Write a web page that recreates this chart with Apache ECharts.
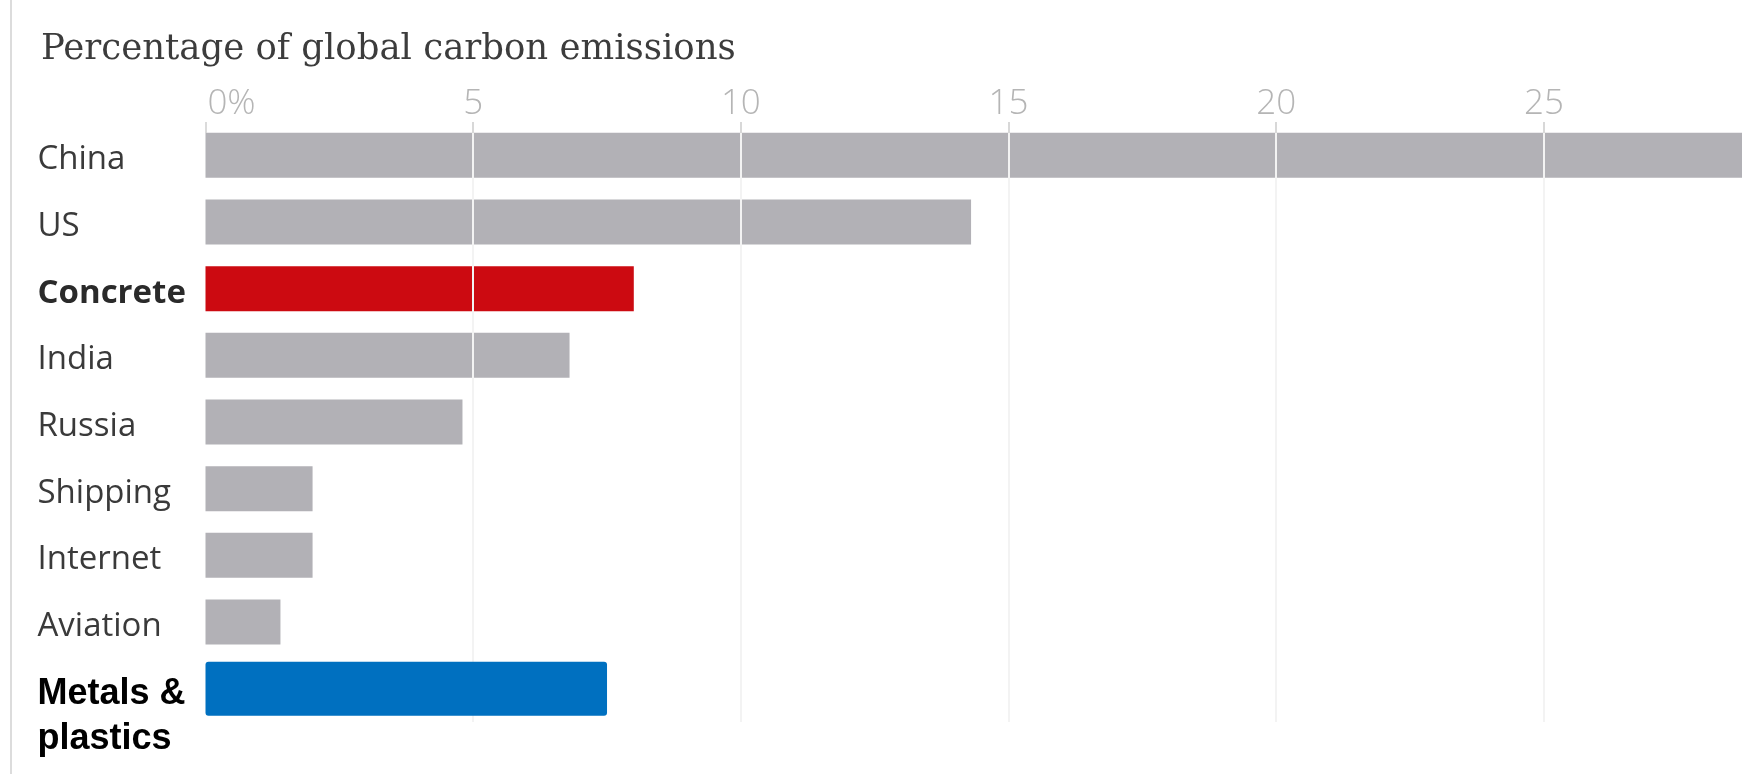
<!DOCTYPE html>
<html>
<head>
<meta charset="utf-8">
<script src="https://cdn.jsdelivr.net/npm/echarts@6/dist/echarts.min.js"></script>
<style>
html,body{margin:0;padding:0;background:#fff;}
#chart{width:1742px;height:774px;}
</style>
</head>
<body>
<div id="chart"></div>
<script>
const title = 'Percentage of global carbon emissions';
const categories = ['China', 'US', 'Concrete', 'India', 'Russia', 'Shipping', 'Internet', 'Aviation', 'Metals & plastics'];
const values = [29, 14.3, 8.0, 6.8, 4.8, 2.0, 2.0, 1.4, null];
const highlightValues = [null, null, null, null, null, null, null, null, 7.5];
const tickValues = [0, 5, 10, 15, 20, 25];
const axisMax = 28.7;

const GRAY = '#b2b1b6', RED = '#cc0a11', BLUE = '#0070c0';

const chart = echarts.init(document.getElementById('chart'), null, {renderer: 'canvas'});

const barData = values.map((v, i) => ({
  value: v,
  itemStyle: {color: categories[i] === 'Concrete' ? RED : GRAY}
}));

const yLabel = {
  show: true,
  align: 'left',
  margin: 168,
  padding: [9, 0, 0, 0],
  fontFamily: 'Open Sans',
  fontSize: 33,
  color: '#3a3a3a',
  formatter: function (v) {
    if (v === 'Concrete') return '{b|' + v + '}';
    if (v === 'Metals & plastics') return '{e| }\n{m|Metals &}\n{m|plastics}';
    return v;
  },
  rich: {
    b: {fontFamily: 'Open Sans', fontWeight: 'bold', fontSize: 33, color: '#2a2a2a'},
    m: {fontFamily: 'Liberation Sans', fontWeight: 'bold', fontSize: 36, lineHeight: 45, color: '#000'},
    e: {fontSize: 2, lineHeight: 46}
  }
};

chart.setOption({
  animation: false,
  backgroundColor: '#fff',
  title: {
    text: title,
    left: 36,
    top: 27,
    textStyle: {fontFamily: 'DejaVu Serif', fontWeight: 'normal', fontSize: 35.5, color: '#3c3c3c'}
  },
  grid: {left: 205.5, right: 0, top: 122, bottom: 52, containLabel: false},
  xAxis: {
    type: 'value',
    position: 'top',
    min: 0,
    max: axisMax,
    interval: 5,
    z: 5,
    axisLine: {show: false},
    axisTick: {show: true, inside: true, length: 11, lineStyle: {color: '#cfcfcf', width: 1.5}},
    splitLine: {show: true, showMinLine: false, showMaxLine: false, lineStyle: {color: '#f3f3f3', width: 2}},
    axisLabel: {
      margin: 0,
      showMaxLabel: false,
      fontFamily: 'Open Sans',
      fontWeight: 300,
      fontSize: 35,
      color: '#b5b5b5',
      formatter: function (v) {
        if (tickValues.indexOf(v) < 0) return '';
        return v === 0 ? '{z|0%}' : String(v);
      },
      rich: {
        z: {fontFamily: 'Open Sans', fontWeight: 300, fontSize: 35, color: '#b5b5b5', padding: [0, 0, 0, 52]}
      }
    }
  },
  yAxis: [{
    type: 'category',
    data: categories,
    inverse: true,
    axisLine: {show: false},
    axisTick: {show: false},
    splitLine: {show: false},
    axisLabel: yLabel
  }, {
    type: 'category',
    data: categories,
    inverse: true,
    show: false
  }],
  graphic: [{
    type: 'line',
    shape: {x1: 11, y1: 0, x2: 11, y2: 774},
    style: {stroke: '#dcdcdc', lineWidth: 2},
    silent: true
  }],
  series: [{
    type: 'bar',
    yAxisIndex: 0,
    data: barData,
    barWidth: 45,
    clip: true,
    z: 2
  }, {
    type: 'bar',
    yAxisIndex: 1,
    data: highlightValues,
    barWidth: 54,
    clip: true,
    z: 8,
    itemStyle: {color: BLUE, borderRadius: 3}
  }]
});
</script>
</body>
</html>
